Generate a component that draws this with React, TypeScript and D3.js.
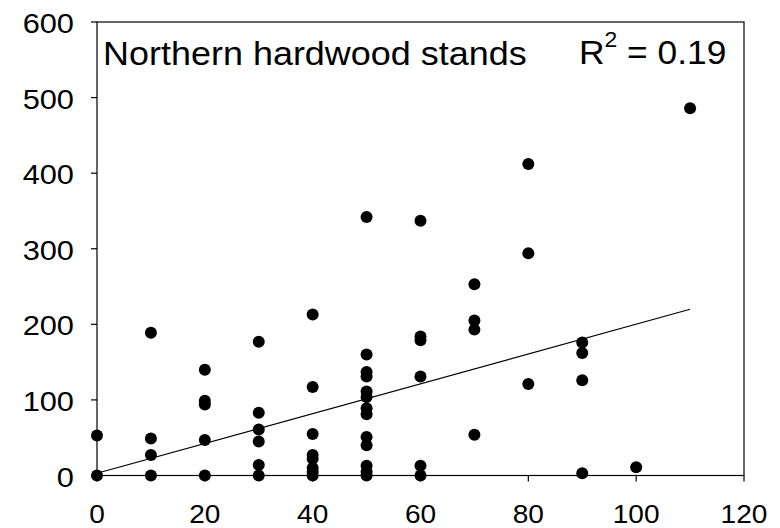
import React from "react";
import * as d3 from "d3";

const xValues: number[] = [
  0, 0,
  10, 10, 10, 10,
  20, 20, 20, 20, 20,
  30, 30, 30, 30, 30, 30,
  40, 40, 40, 40, 40, 40, 40, 40,
  50, 50, 50, 50, 50, 50, 50, 50, 50, 50, 50, 50, 50,
  60, 60, 60, 60, 60, 60,
  70, 70, 70, 70,
  80, 80, 80,
  90, 90, 90, 90,
  100,
  110,
];
const yValues: number[] = [
  0, 53,
  0, 27, 49, 189,
  0, 47, 94, 99, 140,
  0, 14, 45, 61, 83, 177,
  0, 5, 10, 22, 27, 55, 117, 213,
  0, 5, 13, 40, 51, 81, 89, 104, 111, 131, 137, 160, 342,
  0, 13, 131, 179, 184, 337,
  54, 193, 205, 253,
  121, 294, 412,
  3, 126, 162, 176,
  11,
  486,
];
const fitX: number[] = [0, 110];
const fitY: number[] = [3, 220];
const xTicks: number[] = [0, 20, 40, 60, 80, 100, 120];
const yTicks: number[] = [0, 100, 200, 300, 400, 500, 600];
const titleText = "Northern hardwood stands";
const r2Value = "0.19";

export default function App() {
  const left = 97, right = 744, top = 22, bottom = 475.5;
  const x = d3.scaleLinear().domain([0, 120]).range([left, right]);
  const y = d3.scaleLinear().domain([0, 600]).range([bottom, top]);
  const font = "'Liberation Sans', Arial, sans-serif";
  const line = d3.line<number>().x((_, i) => x(fitX[i])).y((_, i) => y(fitY[i]));
  return (
    <svg width={780} height={528} style={{ position: "absolute", left: 0, top: 0, background: "#fff" }}
      fontFamily={font}>
      <rect x={0} y={0} width={780} height={528} fill="#fff" />
      {/* frame */}
      <rect x={left} y={top} width={right - left} height={bottom - top} fill="none" stroke="#000" strokeWidth={1.2} />
      {/* y ticks */}
      {yTicks.map((t) => (
        <g key={"y" + t}>
          <line x1={left - 6} x2={left} y1={y(t)} y2={y(t)} stroke="#000" strokeWidth={1.2} />
          <text transform={`translate(74,${y(t) + 1}) scale(1.1,1)`} dy="0.36em" textAnchor="end" fontSize={28} fill="#000">{t}</text>
        </g>
      ))}
      {/* x ticks */}
      {xTicks.map((t) => (
        <g key={"x" + t}>
          <line x1={x(t)} x2={x(t)} y1={bottom} y2={bottom + 6} stroke="#000" strokeWidth={1.2} />
          <text transform={`translate(${x(t)},${bottom + 47.8}) scale(1.1,1)`} textAnchor="middle" fontSize={25.5} fill="#000">{t}</text>
        </g>
      ))}
      {/* fit line */}
      <path d={line(fitX) || ""} fill="none" stroke="#000" strokeWidth={1.2} />
      {/* points */}
      {xValues.map((xv, i) => (
        <circle key={"p" + i} cx={x(xv)} cy={y(yValues[i])} r={6} fill="#000" />
      ))}
      {/* labels */}
      <text transform="translate(103,65) scale(1.058,1)" fontSize={34} fill="#000">{titleText}</text>
      <text transform="translate(579,63.5) scale(1.04,1)" fontSize={34} fill="#000">
        R
        <tspan fontSize={22} dy={-17}>2</tspan>
        <tspan dy={17}>{" = " + r2Value}</tspan>
      </text>
    </svg>
  );
}
